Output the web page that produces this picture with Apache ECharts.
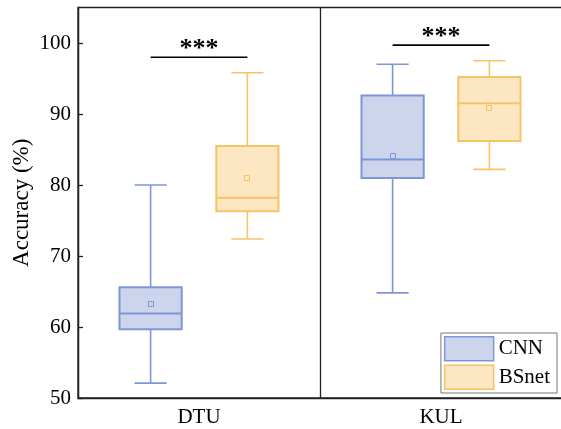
<!DOCTYPE html>
<html><head><meta charset="utf-8">
<script src="https://cdn.jsdelivr.net/npm/echarts@6/dist/echarts.min.js"></script>
<style>html,body{margin:0;padding:0;background:#fff}#c{width:561px;height:429px}</style>
</head><body><div id="c"></div>
<script>
const categories = ['DTU', 'KUL'];
const seriesNames = ['CNN', 'BSnet'];
// each row: [whiskerLow, Q1, median, Q3, whiskerHigh, mean]
const cnnStats = [
  [52.1, 59.7, 61.9, 65.6, 80.0, 63.3],
  [64.8, 81.0, 83.6, 92.6, 97.0, 84.1]
];
const bsnetStats = [
  [72.4, 76.3, 78.2, 85.5, 95.8, 81.0],
  [82.2, 86.2, 91.5, 95.2, 97.5, 90.8]
];
const sigLevels = [98.0, 99.7];
const sigLabels = ['***', '***'];
const yMin = 50, yMax = 105, yInterval = 10;

const FONT = "'Liberation Serif','Times New Roman',serif";
const styles = [
  {fill: '#cdd5ec', stroke: '#7d96d6'},
  {fill: '#fce7c2', stroke: '#f6c465'}
];
const OFFSET = [-0.2, 0.2];

function makeBoxRender(k) {
  return function (params, api) {
    const ci = api.value(0);
    const lo = api.value(1), q1 = api.value(2), med = api.value(3),
          q3 = api.value(4), hi = api.value(5), mean = api.value(6);
    const band = api.size([1, 0])[0];
    const cx = api.coord([ci, med])[0] + OFFSET[k] * band;
    const Y = v => api.coord([ci, v])[1];
    const bw = band * 0.257, cw = band * 0.133;
    const s = styles[k];
    const ls = {stroke: s.stroke, lineWidth: 1.6};
    return {type: 'group', children: [
      {type: 'line', shape: {x1: cx, y1: Y(q3), x2: cx, y2: Y(hi)}, style: ls},
      {type: 'line', shape: {x1: cx, y1: Y(q1), x2: cx, y2: Y(lo)}, style: ls},
      {type: 'line', shape: {x1: cx - cw / 2, y1: Y(hi), x2: cx + cw / 2, y2: Y(hi)}, style: ls},
      {type: 'line', shape: {x1: cx - cw / 2, y1: Y(lo), x2: cx + cw / 2, y2: Y(lo)}, style: ls},
      {type: 'rect', shape: {x: cx - bw / 2, y: Y(q3), width: bw, height: Y(q1) - Y(q3)},
        style: {fill: s.fill, stroke: s.stroke, lineWidth: 2}},
      {type: 'line', shape: {x1: cx - bw / 2, y1: Y(med), x2: cx + bw / 2, y2: Y(med)},
        style: {stroke: s.stroke, lineWidth: 2}},
      {type: 'rect', shape: {x: Math.round(cx) - 2.5, y: Math.round(Y(mean)) - 2.5, width: 5, height: 5},
        style: {fill: 'none', stroke: s.stroke, lineWidth: 1}}
    ]};
  };
}

function renderSig(params, api) {
  const ci = api.value(0), v = api.value(1);
  const band = api.size([1, 0])[0];
  const c = api.coord([ci, v]);
  return {type: 'group', children: [
    {type: 'line', shape: {x1: c[0] + OFFSET[0] * band, y1: c[1], x2: c[0] + OFFSET[1] * band, y2: c[1]},
      style: {stroke: '#000', lineWidth: 1.6}},
    {type: 'text', x: c[0], y: c[1] - 7.5,
      style: {text: sigLabels[params.dataIndex], fill: '#000', font: "bold 26px " + FONT,
        textAlign: 'center', textVerticalAlign: 'middle'}}
  ]};
}

const chart = echarts.init(document.getElementById('c'), null, {renderer: 'canvas'});
chart.setOption({
  animation: false,
  backgroundColor: '#fff',
  grid: {left: 78, right: -1, top: 7.5, bottom: 31, show: true, borderColor: '#222', borderWidth: 1.3,
    containLabel: false, outerBoundsMode: 'none'},
  legend: {
    orient: 'vertical', right: 4, bottom: 36,
    padding: [3, 7, 3, 3], itemGap: 3, itemWidth: 49, itemHeight: 24,
    borderColor: '#777', borderWidth: 1, backgroundColor: '#fff',
    icon: 'rect',
    textStyle: {fontFamily: FONT, fontSize: 21, color: '#000', padding: [0, 0, 0, 0]},
    data: seriesNames.map((n, i) => ({name: n, icon: 'rect',
      itemStyle: {color: styles[i].fill, borderColor: styles[i].stroke, borderWidth: 1.5}}))
  },
  xAxis: {
    type: 'category', data: categories,
    axisLine: {lineStyle: {color: '#222', width: 1.3}},
    axisTick: {show: false},
    axisLabel: {fontFamily: FONT, fontSize: 21, color: '#000', margin: 9},
    splitLine: {show: true, lineStyle: {color: '#222', width: 1.3}}
  },
  yAxis: {
    type: 'value', min: yMin, max: yMax, interval: yInterval,
    name: 'Accuracy (%)', nameLocation: 'middle', nameGap: 45, nameRotate: 90,
    nameMoveOverlap: false,
    nameTextStyle: {fontFamily: FONT, fontSize: 23, color: '#000'},
    axisLine: {show: true, lineStyle: {color: '#222', width: 1.3}},
    axisTick: {show: true, inside: true, length: 5, lineStyle: {color: '#222', width: 1.3}},
    axisLabel: {fontFamily: FONT, fontSize: 21, color: '#000', margin: 7, showMaxLabel: false},
    splitLine: {show: false}
  },
  series: [
    {name: seriesNames[0], type: 'custom', renderItem: makeBoxRender(0),
      itemStyle: {color: styles[0].fill, borderColor: styles[0].stroke},
      encode: {x: 0, y: [1, 2, 3, 4, 5, 6]},
      data: cnnStats.map((r, i) => [i].concat(r))},
    {name: seriesNames[1], type: 'custom', renderItem: makeBoxRender(1),
      itemStyle: {color: styles[1].fill, borderColor: styles[1].stroke},
      encode: {x: 0, y: [1, 2, 3, 4, 5, 6]},
      data: bsnetStats.map((r, i) => [i].concat(r))},
    {name: 'sig', type: 'custom', renderItem: renderSig,
      encode: {x: 0, y: 1},
      data: sigLevels.map((v, i) => [i, v])}
  ]
});
</script></body></html>
